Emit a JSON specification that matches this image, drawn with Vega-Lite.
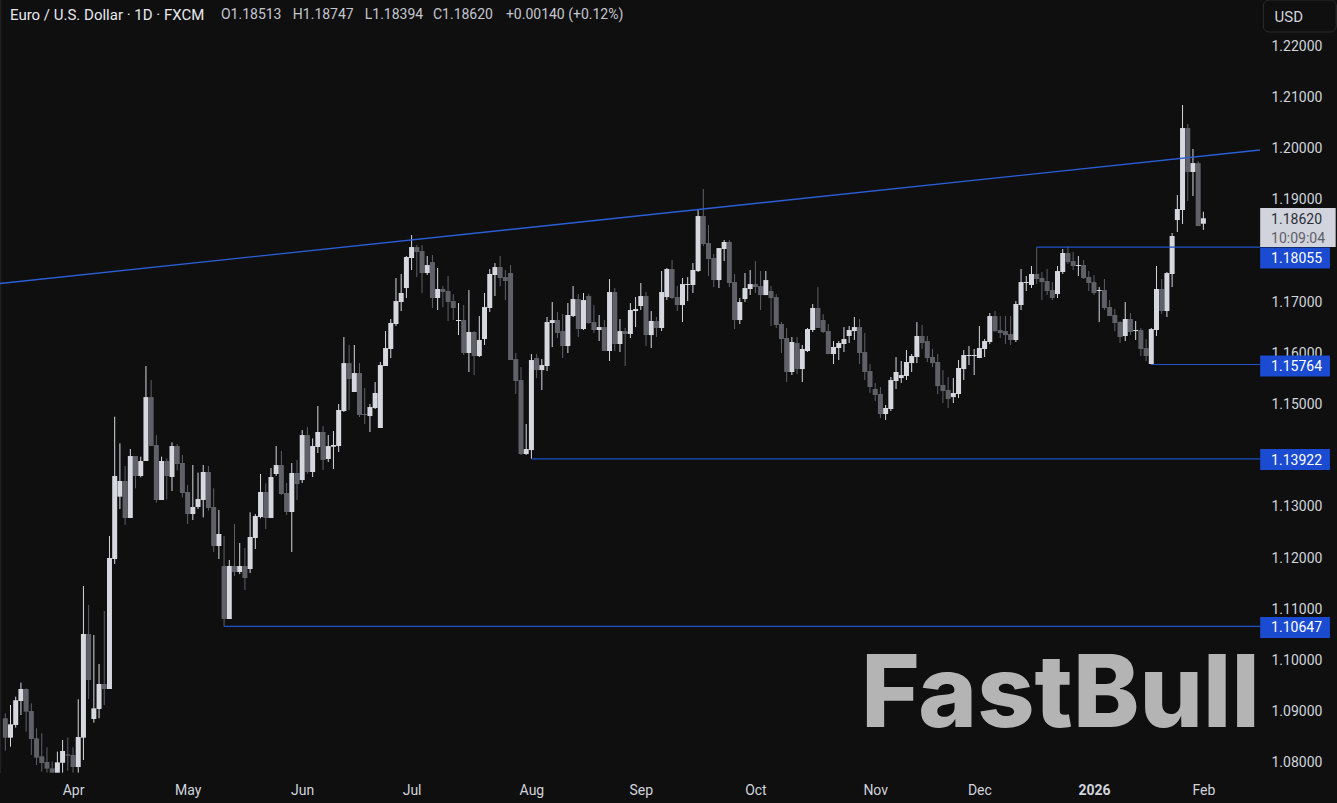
{
  "$schema": "https://vega.github.io/schema/vega-lite/v6.json",
  "width": 1260,
  "height": 773,
  "autosize": {"type": "none"},
  "padding": {"left": 0, "top": 0, "right": 77, "bottom": 30},
  "background": "#0f0f0f",
  "config": {"view": {"stroke": null}, "text": {"font": "Roboto"}},
  "datasets": {
    "candles": [
      {"i":0,"o":1.08853,"h":1.0895,"l":1.08221,"c":1.08475},
      {"i":1,"o":1.08475,"h":1.09113,"l":1.08299,"c":1.08736},
      {"i":2,"o":1.08723,"h":1.09276,"l":1.08671,"c":1.09204},
      {"i":3,"o":1.09191,"h":1.09549,"l":1.08918,"c":1.09426},
      {"i":4,"o":1.09426,"h":1.09439,"l":1.08592,"c":1.08983},
      {"i":5,"o":1.08996,"h":1.09146,"l":1.08137,"c":1.08449},
      {"i":6,"o":1.08462,"h":1.08658,"l":1.07941,"c":1.08085},
      {"i":7,"o":1.08111,"h":1.0856,"l":1.07811,"c":1.0798},
      {"i":8,"o":1.08,"h":1.08286,"l":1.07792,"c":1.0787},
      {"i":9,"o":1.07876,"h":1.08007,"l":1.07792,"c":1.07792},
      {"i":10,"o":1.07792,"h":1.08202,"l":1.07792,"c":1.07993},
      {"i":11,"o":1.07987,"h":1.0843,"l":1.07792,"c":1.08215},
      {"i":12,"o":1.0815,"h":1.08482,"l":1.07831,"c":1.08124},
      {"i":13,"o":1.08137,"h":1.08286,"l":1.07792,"c":1.07902},
      {"i":14,"o":1.07902,"h":1.09224,"l":1.07792,"c":1.08488},
      {"i":15,"o":1.08475,"h":1.11437,"l":1.08039,"c":1.105},
      {"i":16,"o":1.105,"h":1.11066,"l":1.0923,"c":1.09601},
      {"i":17,"o":1.0884,"h":1.1048,"l":1.08768,"c":1.09048},
      {"i":18,"o":1.09035,"h":1.09914,"l":1.08853,"c":1.09523},
      {"i":19,"o":1.09523,"h":1.10949,"l":1.09113,"c":1.09426},
      {"i":20,"o":1.09426,"h":1.12414,"l":1.09426,"c":1.11984},
      {"i":21,"o":1.11965,"h":1.14744,"l":1.11867,"c":1.13586},
      {"i":22,"o":1.13182,"h":1.14224,"l":1.12941,"c":1.13488},
      {"i":23,"o":1.13488,"h":1.13781,"l":1.12629,"c":1.12765},
      {"i":24,"o":1.12765,"h":1.14113,"l":1.12765,"c":1.13976},
      {"i":25,"o":1.13976,"h":1.13976,"l":1.13345,"c":1.13586},
      {"i":26,"o":1.13586,"h":1.13963,"l":1.1356,"c":1.13879},
      {"i":27,"o":1.13879,"h":1.15734,"l":1.13879,"c":1.15128},
      {"i":28,"o":1.15128,"h":1.1546,"l":1.14171,"c":1.14171},
      {"i":29,"o":1.14191,"h":1.14386,"l":1.13065,"c":1.13117},
      {"i":30,"o":1.13117,"h":1.13963,"l":1.13117,"c":1.13879},
      {"i":31,"o":1.13879,"h":1.13931,"l":1.1313,"c":1.13586},
      {"i":32,"o":1.13566,"h":1.14243,"l":1.13293,"c":1.14171},
      {"i":33,"o":1.14171,"h":1.14211,"l":1.1369,"c":1.1382},
      {"i":34,"o":1.1384,"h":1.13996,"l":1.13169,"c":1.13254},
      {"i":35,"o":1.13273,"h":1.1341,"l":1.12648,"c":1.12843},
      {"i":36,"o":1.12843,"h":1.138,"l":1.12726,"c":1.1298},
      {"i":37,"o":1.1298,"h":1.13651,"l":1.12941,"c":1.13136},
      {"i":38,"o":1.13117,"h":1.138,"l":1.12778,"c":1.13664},
      {"i":39,"o":1.13664,"h":1.13781,"l":1.12909,"c":1.12961},
      {"i":40,"o":1.1298,"h":1.13345,"l":1.12101,"c":1.12218},
      {"i":41,"o":1.12218,"h":1.12922,"l":1.11965,"c":1.12453},
      {"i":42,"o":1.11828,"h":1.12414,"l":1.10647,"c":1.10793},
      {"i":43,"o":1.10793,"h":1.11945,"l":1.10793,"c":1.11828},
      {"i":44,"o":1.11828,"h":1.12648,"l":1.11633,"c":1.11711},
      {"i":45,"o":1.11711,"h":1.12277,"l":1.1167,"c":1.11828},
      {"i":46,"o":1.11828,"h":1.1218,"l":1.11359,"c":1.11594},
      {"i":47,"o":1.11769,"h":1.12876,"l":1.1169,"c":1.12394},
      {"i":48,"o":1.12375,"h":1.12843,"l":1.1216,"c":1.12804},
      {"i":49,"o":1.12785,"h":1.13625,"l":1.12759,"c":1.13273},
      {"i":50,"o":1.13273,"h":1.13442,"l":1.1255,"c":1.12765},
      {"i":51,"o":1.12765,"h":1.13742,"l":1.12765,"c":1.13566},
      {"i":52,"o":1.13625,"h":1.14171,"l":1.13586,"c":1.138},
      {"i":53,"o":1.138,"h":1.14074,"l":1.13215,"c":1.13234},
      {"i":54,"o":1.13254,"h":1.13449,"l":1.12824,"c":1.12883},
      {"i":55,"o":1.12883,"h":1.1384,"l":1.12101,"c":1.13644},
      {"i":56,"o":1.13644,"h":1.13898,"l":1.13117,"c":1.13429},
      {"i":57,"o":1.13507,"h":1.14484,"l":1.13449,"c":1.14386},
      {"i":58,"o":1.14386,"h":1.14543,"l":1.13625,"c":1.13664},
      {"i":59,"o":1.13664,"h":1.14321,"l":1.13566,"c":1.14171},
      {"i":60,"o":1.14152,"h":1.14953,"l":1.14035,"c":1.14445},
      {"i":61,"o":1.14445,"h":1.14562,"l":1.13703,"c":1.13898},
      {"i":62,"o":1.13918,"h":1.14386,"l":1.13859,"c":1.14171},
      {"i":63,"o":1.14158,"h":1.14464,"l":1.13722,"c":1.14191},
      {"i":64,"o":1.14171,"h":1.14992,"l":1.14054,"c":1.14875},
      {"i":65,"o":1.14855,"h":1.163,"l":1.14836,"c":1.15792},
      {"i":66,"o":1.15792,"h":1.16144,"l":1.14875,"c":1.1548},
      {"i":67,"o":1.15226,"h":1.16144,"l":1.15226,"c":1.15597},
      {"i":68,"o":1.15597,"h":1.15792,"l":1.14738,"c":1.14777},
      {"i":69,"o":1.14796,"h":1.15304,"l":1.14601,"c":1.14777},
      {"i":70,"o":1.14757,"h":1.14992,"l":1.14445,"c":1.14933},
      {"i":71,"o":1.14914,"h":1.15421,"l":1.14894,"c":1.15207},
      {"i":72,"o":1.14523,"h":1.15812,"l":1.14523,"c":1.15753},
      {"i":73,"o":1.15734,"h":1.16417,"l":1.15734,"c":1.16085},
      {"i":74,"o":1.16066,"h":1.16652,"l":1.1589,"c":1.16574},
      {"i":75,"o":1.16554,"h":1.17453,"l":1.16515,"c":1.17003},
      {"i":76,"o":1.16984,"h":1.17531,"l":1.16808,"c":1.1716},
      {"i":77,"o":1.17257,"h":1.17882,"l":1.17062,"c":1.17863},
      {"i":78,"o":1.17843,"h":1.18292,"l":1.17609,"c":1.18058},
      {"i":79,"o":1.18058,"h":1.18097,"l":1.17472,"c":1.1796},
      {"i":80,"o":1.1798,"h":1.18097,"l":1.1716,"c":1.1755},
      {"i":81,"o":1.1755,"h":1.17882,"l":1.17511,"c":1.17706},
      {"i":82,"o":1.17765,"h":1.17902,"l":1.16867,"c":1.17062},
      {"i":83,"o":1.17062,"h":1.17648,"l":1.16828,"c":1.17238},
      {"i":84,"o":1.17238,"h":1.17296,"l":1.16886,"c":1.17179},
      {"i":85,"o":1.17199,"h":1.17492,"l":1.16613,"c":1.16984},
      {"i":86,"o":1.17003,"h":1.1714,"l":1.16632,"c":1.16867},
      {"i":87,"o":1.16613,"h":1.16964,"l":1.16339,"c":1.16632},
      {"i":88,"o":1.16632,"h":1.16925,"l":1.15949,"c":1.15988},
      {"i":89,"o":1.15988,"h":1.17218,"l":1.15617,"c":1.16398},
      {"i":90,"o":1.16398,"h":1.16417,"l":1.15558,"c":1.15929},
      {"i":91,"o":1.15929,"h":1.1671,"l":1.1591,"c":1.16242},
      {"i":92,"o":1.16261,"h":1.1716,"l":1.16144,"c":1.16886},
      {"i":93,"o":1.16867,"h":1.17628,"l":1.16788,"c":1.17531},
      {"i":94,"o":1.17511,"h":1.17745,"l":1.17101,"c":1.17667},
      {"i":95,"o":1.17667,"h":1.17882,"l":1.17296,"c":1.17453},
      {"i":96,"o":1.17472,"h":1.17609,"l":1.17022,"c":1.17394},
      {"i":97,"o":1.1755,"h":1.17706,"l":1.15851,"c":1.15851},
      {"i":98,"o":1.1587,"h":1.15988,"l":1.15187,"c":1.15441},
      {"i":99,"o":1.1546,"h":1.15714,"l":1.13996,"c":1.14015},
      {"i":100,"o":1.14015,"h":1.14601,"l":1.13996,"c":1.14113},
      {"i":101,"o":1.14093,"h":1.15968,"l":1.13922,"c":1.15851},
      {"i":102,"o":1.1589,"h":1.15968,"l":1.15499,"c":1.15655},
      {"i":103,"o":1.15655,"h":1.1587,"l":1.15265,"c":1.15753},
      {"i":104,"o":1.15734,"h":1.16691,"l":1.15636,"c":1.16593},
      {"i":105,"o":1.16574,"h":1.16984,"l":1.16105,"c":1.16632},
      {"i":106,"o":1.16632,"h":1.16788,"l":1.16281,"c":1.16378},
      {"i":107,"o":1.16417,"h":1.16749,"l":1.1589,"c":1.16124},
      {"i":108,"o":1.16124,"h":1.16964,"l":1.15988,"c":1.1673},
      {"i":109,"o":1.1671,"h":1.17296,"l":1.16691,"c":1.17042},
      {"i":110,"o":1.17042,"h":1.1714,"l":1.163,"c":1.16456},
      {"i":111,"o":1.16456,"h":1.1716,"l":1.16437,"c":1.17022},
      {"i":112,"o":1.17101,"h":1.1714,"l":1.16554,"c":1.16574},
      {"i":113,"o":1.16593,"h":1.16925,"l":1.16378,"c":1.16437},
      {"i":114,"o":1.16437,"h":1.1673,"l":1.16222,"c":1.16495},
      {"i":115,"o":1.16495,"h":1.16632,"l":1.16027,"c":1.16027},
      {"i":116,"o":1.16027,"h":1.17433,"l":1.15832,"c":1.17179},
      {"i":117,"o":1.17179,"h":1.17257,"l":1.16027,"c":1.16164},
      {"i":118,"o":1.16164,"h":1.16652,"l":1.16007,"c":1.16417},
      {"i":119,"o":1.16417,"h":1.16476,"l":1.15734,"c":1.16359},
      {"i":120,"o":1.16359,"h":1.16964,"l":1.16281,"c":1.16828},
      {"i":121,"o":1.16808,"h":1.17081,"l":1.16495,"c":1.16847},
      {"i":122,"o":1.16906,"h":1.17355,"l":1.16828,"c":1.17101},
      {"i":123,"o":1.17101,"h":1.17179,"l":1.16124,"c":1.16339},
      {"i":124,"o":1.16339,"h":1.16808,"l":1.16085,"c":1.16613},
      {"i":125,"o":1.16613,"h":1.16691,"l":1.163,"c":1.16476},
      {"i":126,"o":1.16476,"h":1.17589,"l":1.16417,"c":1.17179},
      {"i":127,"o":1.17081,"h":1.17648,"l":1.17022,"c":1.17628},
      {"i":128,"o":1.17628,"h":1.17804,"l":1.17042,"c":1.17062},
      {"i":129,"o":1.17081,"h":1.17296,"l":1.16808,"c":1.16925},
      {"i":130,"o":1.16925,"h":1.17453,"l":1.16593,"c":1.17335},
      {"i":131,"o":1.17316,"h":1.17472,"l":1.17003,"c":1.17335},
      {"i":132,"o":1.17316,"h":1.17745,"l":1.1716,"c":1.17609},
      {"i":133,"o":1.17589,"h":1.18781,"l":1.1757,"c":1.18663},
      {"i":134,"o":1.18663,"h":1.19191,"l":1.18077,"c":1.18117},
      {"i":135,"o":1.18136,"h":1.18488,"l":1.17492,"c":1.17824},
      {"i":136,"o":1.17843,"h":1.17921,"l":1.17277,"c":1.17413},
      {"i":137,"o":1.17413,"h":1.18038,"l":1.17257,"c":1.18038},
      {"i":138,"o":1.18019,"h":1.18195,"l":1.17784,"c":1.18156},
      {"i":139,"o":1.18156,"h":1.18195,"l":1.17277,"c":1.17355},
      {"i":140,"o":1.17374,"h":1.17531,"l":1.16456,"c":1.16632},
      {"i":141,"o":1.16632,"h":1.17062,"l":1.16554,"c":1.16984},
      {"i":142,"o":1.17042,"h":1.1755,"l":1.16984,"c":1.17257},
      {"i":143,"o":1.17238,"h":1.17609,"l":1.1712,"c":1.17335},
      {"i":144,"o":1.17335,"h":1.17784,"l":1.1716,"c":1.17277},
      {"i":145,"o":1.17296,"h":1.17589,"l":1.16828,"c":1.1712},
      {"i":146,"o":1.1712,"h":1.17589,"l":1.1712,"c":1.17413},
      {"i":147,"o":1.17199,"h":1.17296,"l":1.16515,"c":1.17062},
      {"i":148,"o":1.17081,"h":1.1714,"l":1.16476,"c":1.16535},
      {"i":149,"o":1.16554,"h":1.16593,"l":1.15988,"c":1.16261},
      {"i":150,"o":1.16281,"h":1.16476,"l":1.15421,"c":1.15617},
      {"i":151,"o":1.15617,"h":1.163,"l":1.15558,"c":1.16203},
      {"i":152,"o":1.16183,"h":1.163,"l":1.15578,"c":1.15675},
      {"i":153,"o":1.15675,"h":1.16144,"l":1.15421,"c":1.16066},
      {"i":154,"o":1.16027,"h":1.16476,"l":1.16007,"c":1.16456},
      {"i":155,"o":1.16437,"h":1.16945,"l":1.16398,"c":1.16867},
      {"i":156,"o":1.16867,"h":1.17277,"l":1.16476,"c":1.16476},
      {"i":157,"o":1.16632,"h":1.16749,"l":1.16378,"c":1.16398},
      {"i":158,"o":1.16417,"h":1.16554,"l":1.15968,"c":1.15968},
      {"i":159,"o":1.15968,"h":1.16222,"l":1.15773,"c":1.16105},
      {"i":160,"o":1.16085,"h":1.16222,"l":1.15851,"c":1.16183},
      {"i":161,"o":1.16164,"h":1.16495,"l":1.16007,"c":1.16261},
      {"i":162,"o":1.1632,"h":1.16515,"l":1.16183,"c":1.16437},
      {"i":163,"o":1.16417,"h":1.16691,"l":1.16242,"c":1.16495},
      {"i":164,"o":1.16495,"h":1.16652,"l":1.15773,"c":1.15988},
      {"i":165,"o":1.16007,"h":1.16378,"l":1.1546,"c":1.15617},
      {"i":166,"o":1.15636,"h":1.15773,"l":1.15207,"c":1.15324},
      {"i":167,"o":1.15285,"h":1.15402,"l":1.1505,"c":1.15168},
      {"i":168,"o":1.15187,"h":1.15324,"l":1.14718,"c":1.14796},
      {"i":169,"o":1.14796,"h":1.14972,"l":1.14679,"c":1.14914},
      {"i":170,"o":1.14894,"h":1.15519,"l":1.14855,"c":1.1546},
      {"i":171,"o":1.15441,"h":1.1591,"l":1.15285,"c":1.15617},
      {"i":172,"o":1.15499,"h":1.15832,"l":1.15402,"c":1.15558},
      {"i":173,"o":1.15539,"h":1.16046,"l":1.1546,"c":1.15812},
      {"i":174,"o":1.15792,"h":1.15968,"l":1.15617,"c":1.15929},
      {"i":175,"o":1.1591,"h":1.16593,"l":1.15792,"c":1.1632},
      {"i":176,"o":1.1632,"h":1.16535,"l":1.16066,"c":1.16183},
      {"i":177,"o":1.16222,"h":1.1632,"l":1.15812,"c":1.1589},
      {"i":178,"o":1.1591,"h":1.16066,"l":1.15714,"c":1.15792},
      {"i":179,"o":1.15812,"h":1.15968,"l":1.15187,"c":1.15343},
      {"i":180,"o":1.15363,"h":1.15655,"l":1.15011,"c":1.15246},
      {"i":181,"o":1.15265,"h":1.15519,"l":1.14914,"c":1.15089},
      {"i":182,"o":1.15128,"h":1.15499,"l":1.15011,"c":1.15207},
      {"i":183,"o":1.15187,"h":1.15851,"l":1.15109,"c":1.15695},
      {"i":184,"o":1.15675,"h":1.16046,"l":1.1546,"c":1.15949},
      {"i":185,"o":1.15929,"h":1.16124,"l":1.15753,"c":1.15949},
      {"i":186,"o":1.15929,"h":1.16066,"l":1.15558,"c":1.15949},
      {"i":187,"o":1.1589,"h":1.16515,"l":1.1589,"c":1.16085},
      {"i":188,"o":1.16066,"h":1.16261,"l":1.1591,"c":1.16222},
      {"i":189,"o":1.16203,"h":1.16769,"l":1.16164,"c":1.1671},
      {"i":190,"o":1.1671,"h":1.16808,"l":1.16398,"c":1.16417},
      {"i":191,"o":1.16437,"h":1.1671,"l":1.16281,"c":1.16378},
      {"i":192,"o":1.16417,"h":1.1671,"l":1.16164,"c":1.16339},
      {"i":193,"o":1.16359,"h":1.1671,"l":1.16144,"c":1.16242},
      {"i":194,"o":1.16242,"h":1.17003,"l":1.16203,"c":1.16945},
      {"i":195,"o":1.16925,"h":1.17628,"l":1.16828,"c":1.17374},
      {"i":196,"o":1.17355,"h":1.17492,"l":1.17199,"c":1.17374},
      {"i":197,"o":1.17316,"h":1.17687,"l":1.17257,"c":1.17531},
      {"i":198,"o":1.17531,"h":1.18055,"l":1.17335,"c":1.17433},
      {"i":199,"o":1.17453,"h":1.1757,"l":1.17022,"c":1.17374},
      {"i":200,"o":1.17394,"h":1.17628,"l":1.1712,"c":1.17199},
      {"i":201,"o":1.17218,"h":1.17374,"l":1.17022,"c":1.17062},
      {"i":202,"o":1.1714,"h":1.17687,"l":1.17062,"c":1.17589},
      {"i":203,"o":1.1757,"h":1.18019,"l":1.17531,"c":1.17941},
      {"i":204,"o":1.17941,"h":1.18077,"l":1.17726,"c":1.17765},
      {"i":205,"o":1.17784,"h":1.1796,"l":1.17609,"c":1.17687},
      {"i":206,"o":1.17687,"h":1.17882,"l":1.17492,"c":1.17706},
      {"i":207,"o":1.17706,"h":1.17804,"l":1.17433,"c":1.17453},
      {"i":208,"o":1.17472,"h":1.17589,"l":1.17199,"c":1.17355},
      {"i":209,"o":1.17374,"h":1.17511,"l":1.1712,"c":1.1716},
      {"i":210,"o":1.17199,"h":1.17277,"l":1.16593,"c":1.17218},
      {"i":211,"o":1.17218,"h":1.17433,"l":1.16828,"c":1.16867},
      {"i":212,"o":1.16886,"h":1.17022,"l":1.1671,"c":1.1671},
      {"i":213,"o":1.1673,"h":1.16847,"l":1.16417,"c":1.16574},
      {"i":214,"o":1.16593,"h":1.16613,"l":1.16183,"c":1.163},
      {"i":215,"o":1.1632,"h":1.16984,"l":1.16222,"c":1.16652},
      {"i":216,"o":1.16652,"h":1.16769,"l":1.16339,"c":1.16398},
      {"i":217,"o":1.16417,"h":1.16613,"l":1.16242,"c":1.16437},
      {"i":218,"o":1.16437,"h":1.16476,"l":1.15929,"c":1.16066},
      {"i":219,"o":1.16085,"h":1.16261,"l":1.15832,"c":1.15929},
      {"i":220,"o":1.15773,"h":1.16476,"l":1.15764,"c":1.16456},
      {"i":221,"o":1.16437,"h":1.17687,"l":1.1632,"c":1.17238},
      {"i":222,"o":1.17238,"h":1.17433,"l":1.16749,"c":1.16808},
      {"i":223,"o":1.16808,"h":1.1757,"l":1.16691,"c":1.1755},
      {"i":224,"o":1.17531,"h":1.18331,"l":1.17277,"c":1.18273},
      {"i":225,"o":1.18585,"h":1.19073,"l":1.18351,"c":1.188},
      {"i":226,"o":1.18781,"h":1.20831,"l":1.18507,"c":1.20382},
      {"i":227,"o":1.20382,"h":1.2046,"l":1.18956,"c":1.19523},
      {"i":228,"o":1.19523,"h":1.19972,"l":1.19054,"c":1.19698},
      {"i":229,"o":1.19698,"h":1.19737,"l":1.18468,"c":1.18468},
      {"i":230,"o":1.18513,"h":1.18747,"l":1.18394,"c":1.1862}
    ],
    "trend": [
      {"i":-1.017,"p":1.17346},
      {"i":240.87,"p":1.19953}
    ],
    "levels": [
      {"i":198,"i2":240.87,"p":1.18055},
      {"i":220,"i2":240.87,"p":1.15764},
      {"i":101,"i2":240.87,"p":1.13922},
      {"i":42,"i2":240.87,"p":1.10647}
    ],
    "priceTags": [
      {"i":240.9,"i2":254.3,"ti":243,"p":1.17844,"label":"1.18055"},
      {"i":240.9,"i2":254.3,"ti":243,"p":1.15734,"label":"1.15764"},
      {"i":240.9,"i2":254.3,"ti":243,"p":1.13908,"label":"1.13922"},
      {"i":240.9,"i2":254.3,"ti":243,"p":1.10627,"label":"1.10647"}
    ]
  },
  "layer": [
    {
      "data": {"values": [{"i": -0.93}]},
      "mark": {"type": "rule", "color": "#222224", "strokeWidth": 1.5},
      "encoding": {
        "x": {"field": "i", "type": "quantitative", "scale": {"domain": [-1.017, 240.87], "nice": false, "zero": false, "padding": 0}}
      }
    },
    {
      "data": {"name": "candles"},
      "mark": {"type": "rule", "strokeWidth": 1, "clip": true},
      "encoding": {
        "x": {
          "field": "i", "type": "quantitative",
          "scale": {"domain": [-1.017, 240.87], "nice": false, "zero": false, "padding": 0},
          "axis": {
            "title": null, "grid": false, "domain": false, "ticks": false,
            "values": [13, 35, 57, 78, 101, 122, 144, 167, 187, 209, 230],
            "labelExpr": "{'13':'Apr','35':'May','57':'Jun','78':'Jul','101':'Aug','122':'Sep','144':'Oct','167':'Nov','187':'Dec','209':'2026','230':'Feb'}[datum.value]",
            "labelFont": "Roboto", "labelFontSize": 14, "labelColor": "#d1d4dc", "labelPadding": 10,
            "labelFlush": false, "labelOverlap": false,
            "labelFontWeight": {"condition": {"test": "datum.value == 209", "value": "bold"}, "value": "normal"}
          }
        },
        "y": {
          "field": "l", "type": "quantitative",
          "scale": {"domain": [1.07785, 1.22883], "nice": false, "zero": false},
          "axis": {
            "title": null, "orient": "right", "grid": false, "domain": false, "ticks": false,
            "values": [1.08, 1.09, 1.1, 1.11, 1.12, 1.13, 1.15, 1.16, 1.17, 1.19, 1.2, 1.21, 1.22],
            "format": ".5f", "labelFont": "Roboto", "labelFontSize": 14, "labelColor": "#d1d4dc",
            "labelPadding": 11, "labelOverlap": false, "labelOffset": 1
          }
        },
        "y2": {"field": "h"},
        "color": {"condition": {"test": "datum.c >= datum.o", "value": "#d6d8e0"}, "value": "#5f6068"}
      }
    },
    {
      "data": {"name": "candles"},
      "mark": {"type": "bar", "size": 5, "orient": "vertical", "clip": true, "minBandSize": 1},
      "encoding": {
        "x": {"field": "i", "type": "quantitative", "scale": {"domain": [-1.017, 240.87], "nice": false, "zero": false, "padding": 0}},
        "y": {"field": "o", "type": "quantitative", "scale": {"domain": [1.07785, 1.22883], "nice": false, "zero": false}},
        "y2": {"field": "c"},
        "color": {"condition": {"test": "datum.c >= datum.o", "value": "#d6d8e0"}, "value": "#5f6068"}
      }
    },
    {
      "data": {"name": "trend"},
      "mark": {"type": "line", "color": "#2a5fd8", "strokeWidth": 1.4, "clip": true},
      "encoding": {
        "x": {"field": "i", "type": "quantitative", "scale": {"domain": [-1.017, 240.87], "nice": false, "zero": false, "padding": 0}},
        "y": {"field": "p", "type": "quantitative", "scale": {"domain": [1.07785, 1.22883], "nice": false, "zero": false}}
      }
    },
    {
      "data": {"name": "levels"},
      "mark": {"type": "rule", "color": "#2152c8", "strokeWidth": 1.2},
      "encoding": {
        "x": {"field": "i", "type": "quantitative", "scale": {"domain": [-1.017, 240.87], "nice": false, "zero": false, "padding": 0}},
        "x2": {"field": "i2"},
        "y": {"field": "p", "type": "quantitative", "scale": {"domain": [1.07785, 1.22883], "nice": false, "zero": false}}
      }
    },
    {
      "data": {"name": "priceTags"},
      "mark": {"type": "rule", "color": "#1a4bd0", "strokeWidth": 21},
      "encoding": {
        "x": {"field": "i", "type": "quantitative", "scale": {"domain": [-1.017, 240.87], "nice": false, "zero": false, "padding": 0}},
        "x2": {"field": "i2"},
        "y": {"field": "p", "type": "quantitative", "scale": {"domain": [1.07785, 1.22883], "nice": false, "zero": false}}
      }
    },
    {
      "data": {"name": "priceTags"},
      "mark": {"type": "text", "align": "left", "baseline": "middle", "color": "#ffffff", "fontSize": 14, "font": "Roboto", "dy": 1},
      "encoding": {
        "x": {"field": "ti", "type": "quantitative", "scale": {"domain": [-1.017, 240.87], "nice": false, "zero": false, "padding": 0}},
        "y": {"field": "p", "type": "quantitative", "scale": {"domain": [1.07785, 1.22883], "nice": false, "zero": false}},
        "text": {"field": "label"}
      }
    },
    {
      "data": {"values": [{"i": 240.9, "i2": 255.4, "p": 1.18439}]},
      "mark": {"type": "rule", "color": "#d1d4dc", "strokeWidth": 39},
      "encoding": {
        "x": {"field": "i", "type": "quantitative", "scale": {"domain": [-1.017, 240.87], "nice": false, "zero": false, "padding": 0}},
        "x2": {"field": "i2"},
        "y": {"field": "p", "type": "quantitative", "scale": {"domain": [1.07785, 1.22883], "nice": false, "zero": false}}
      }
    },
    {
      "data": {"values": [{"i": 243, "p": 1.18581, "t": "1.18620"}]},
      "mark": {"type": "text", "align": "left", "baseline": "middle", "color": "#2a2e39", "fontSize": 14, "font": "Roboto"},
      "encoding": {
        "x": {"field": "i", "type": "quantitative", "scale": {"domain": [-1.017, 240.87], "nice": false, "zero": false, "padding": 0}},
        "y": {"field": "p", "type": "quantitative", "scale": {"domain": [1.07785, 1.22883], "nice": false, "zero": false}},
        "text": {"field": "t"}
      }
    },
    {
      "data": {"values": [{"i": 243, "p": 1.18218, "t": "10:09:04"}]},
      "mark": {"type": "text", "align": "left", "baseline": "middle", "color": "#5f6068", "fontSize": 14, "font": "Roboto"},
      "encoding": {
        "x": {"field": "i", "type": "quantitative", "scale": {"domain": [-1.017, 240.87], "nice": false, "zero": false, "padding": 0}},
        "y": {"field": "p", "type": "quantitative", "scale": {"domain": [1.07785, 1.22883], "nice": false, "zero": false}},
        "text": {"field": "t"}
      }
    },
    {
      "data": {"values": [{"i": 241.5, "i2": 255.5, "p": 1.22883, "p2": 1.22258}]},
      "mark": {"type": "rect", "fill": "#0f0f0f", "stroke": "#2e2e30", "strokeWidth": 1, "cornerRadius": 6},
      "encoding": {
        "x": {"field": "i", "type": "quantitative", "scale": {"domain": [-1.017, 240.87], "nice": false, "zero": false, "padding": 0}},
        "x2": {"field": "i2"},
        "y": {"field": "p", "type": "quantitative", "scale": {"domain": [1.07785, 1.22883], "nice": false, "zero": false}},
        "y2": {"field": "p2"}
      }
    },
    {
      "data": {"values": [{"i": 246.4, "p": 1.2255, "t": "USD"}]},
      "mark": {"type": "text", "align": "center", "baseline": "middle", "color": "#d1d4dc", "fontSize": 15, "font": "Roboto"},
      "encoding": {
        "x": {"field": "i", "type": "quantitative", "scale": {"domain": [-1.017, 240.87], "nice": false, "zero": false, "padding": 0}},
        "y": {"field": "p", "type": "quantitative", "scale": {"domain": [1.07785, 1.22883], "nice": false, "zero": false}},
        "text": {"field": "t"}
      }
    },
    {
      "data": {"values": [{"i": 0.9, "p": 1.22586, "t": "Euro / U.S. Dollar · 1D · FXCM"}]},
      "mark": {"type": "text", "align": "left", "baseline": "middle", "color": "#e6e8ee", "fontSize": 15, "font": "Roboto"},
      "encoding": {
        "x": {"field": "i", "type": "quantitative", "scale": {"domain": [-1.017, 240.87], "nice": false, "zero": false, "padding": 0}},
        "y": {"field": "p", "type": "quantitative", "scale": {"domain": [1.07785, 1.22883], "nice": false, "zero": false}},
        "text": {"field": "t"}
      }
    },
    {
      "data": {"values": [
        {"i": 41.4, "p": 1.22586, "t": "O1.18513"},
        {"i": 55.2, "p": 1.22586, "t": "H1.18747"},
        {"i": 69, "p": 1.22586, "t": "L1.18394"},
        {"i": 82.1, "p": 1.22586, "t": "C1.18620"},
        {"i": 96.1, "p": 1.22586, "t": "+0.00140 (+0.12%)"}
      ]},
      "mark": {"type": "text", "align": "left", "baseline": "middle", "color": "#c4c6ce", "fontSize": 14, "font": "Roboto"},
      "encoding": {
        "x": {"field": "i", "type": "quantitative", "scale": {"domain": [-1.017, 240.87], "nice": false, "zero": false, "padding": 0}},
        "y": {"field": "p", "type": "quantitative", "scale": {"domain": [1.07785, 1.22883], "nice": false, "zero": false}},
        "text": {"field": "t"}
      }
    },
    {
      "data": {"values": [{"i": 164.3, "p": 1.08684, "t": "FastBull"}]},
      "mark": {"type": "text", "align": "left", "baseline": "alphabetic", "color": "#b4b4b4", "fontSize": 100, "font": "Inter", "fontWeight": 800},
      "encoding": {
        "x": {"field": "i", "type": "quantitative", "scale": {"domain": [-1.017, 240.87], "nice": false, "zero": false, "padding": 0}},
        "y": {"field": "p", "type": "quantitative", "scale": {"domain": [1.07785, 1.22883], "nice": false, "zero": false}},
        "text": {"field": "t"}
      }
    }
  ]
}
